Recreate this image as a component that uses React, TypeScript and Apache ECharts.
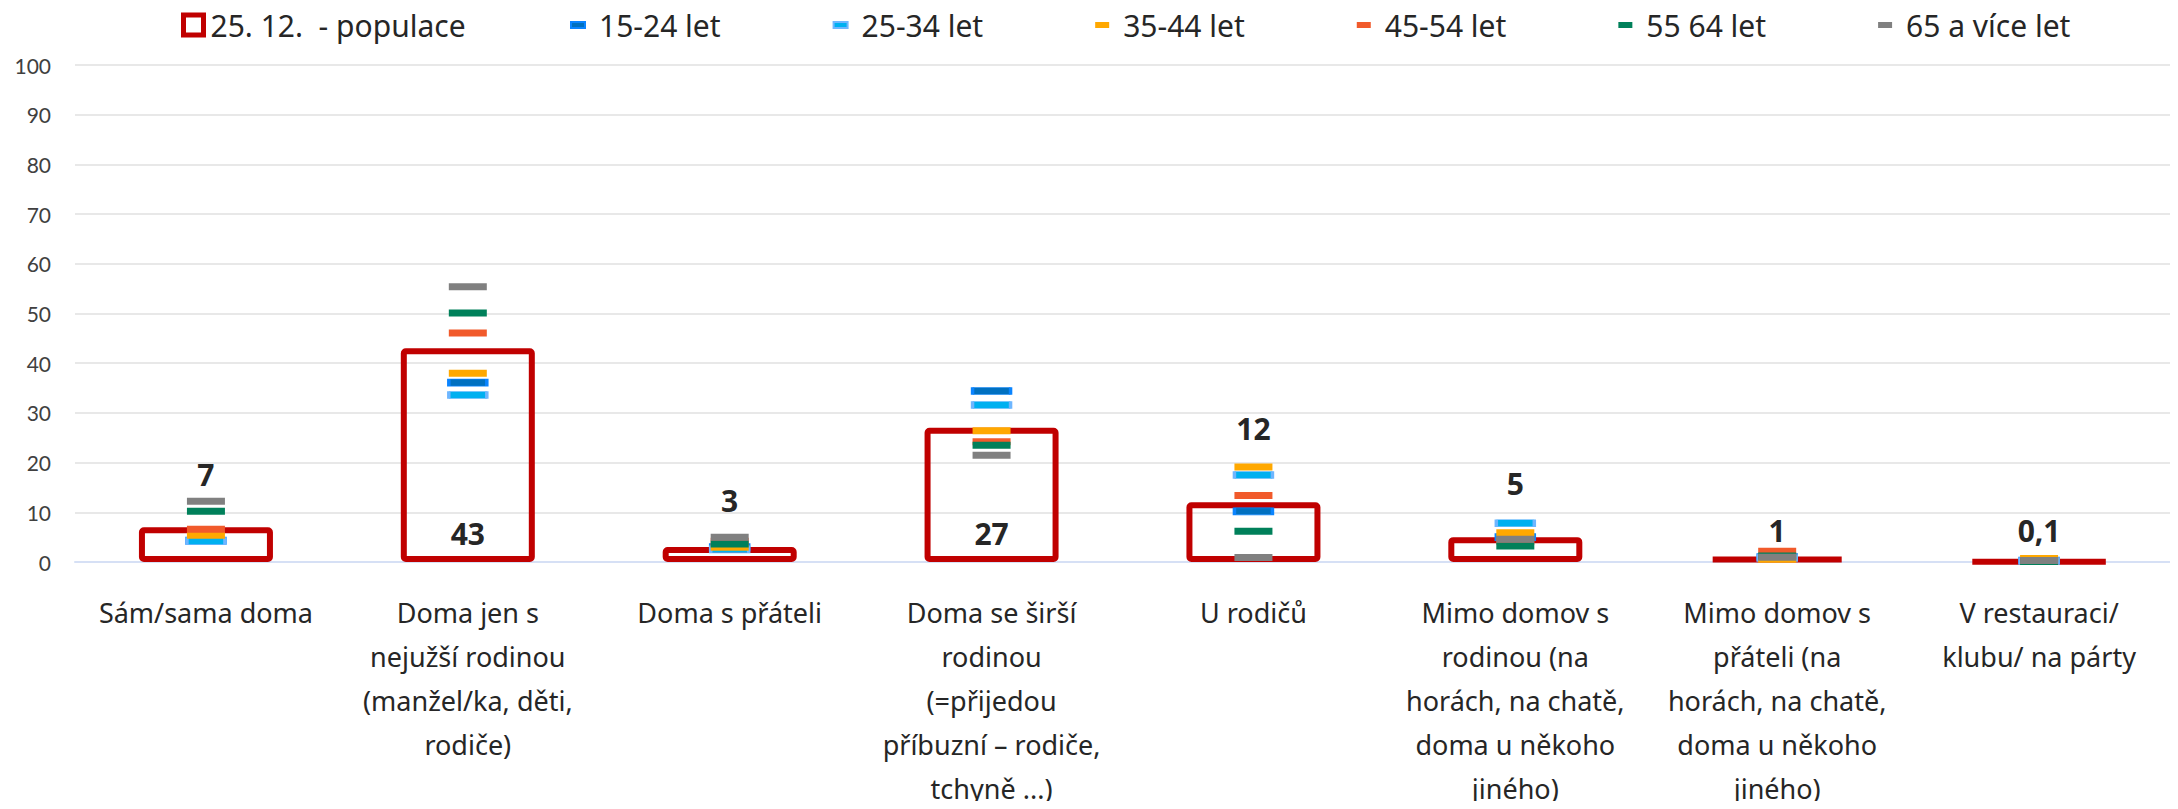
import React, { useEffect, useRef } from "react";
import * as echarts from "echarts";

const categories = [
  "Sám/sama doma",
  "Doma jen s\nnejužší rodinou\n(manžel/ka, děti,\nrodiče)",
  "Doma s přáteli",
  "Doma se širší\nrodinou\n(=přijedou\npříbuzní – rodiče,\ntchyně ...)",
  "U rodičů",
  "Mimo domov s\nrodinou (na\nhorách, na chatě,\ndoma u někoho\njiného)",
  "Mimo domov s\npřáteli (na\nhorách, na chatě,\ndoma u někoho\njiného)",
  "V restauraci/\nklubu/ na párty",
];

const populationName = "25. 12.  - populace";
const populationValues = [7, 43, 3, 27, 12, 5, 1, 0.1];

const ageGroups = ["15-24 let", "25-34 let", "35-44 let", "45-54 let", "55 64 let", "65 a více let"];
const age15_24 = [4.3, 36.1, 3.0, 34.4, 10.2, 5.0, 1.0, 0.3];
const age25_34 = [4.2, 33.6, 2.55, 31.6, 17.5, 7.8, 0.8, 0.2];
const age35_44 = [5.4, 38.0, 2.95, 26.4, 19.1, 5.9, 0.55, 0.7];
const age45_54 = [6.6, 46.1, 4.2, 24.2, 13.4, 4.2, 2.15, 0.2];
const age55_64 = [10.2, 50.1, 3.6, 23.5, 6.2, 3.2, 1.2, 0.1];
const age65plus = [12.2, 55.4, 5.0, 21.5, 0.9, 4.6, 0.95, 0.3];
const ageValues = [age15_24, age25_34, age35_44, age45_54, age55_64, age65plus];

const yTicks = { min: 0, max: 100, interval: 10 };

// styling (not data)
const ageStyles = [
  { color: "#0070C0", borderColor: "#0A84FF", borderWidth: 1.5 },
  { color: "#00B0F0", borderColor: "#6EB6FF", borderWidth: 1.5 },
  { color: "#FFA800", borderColor: "#FFA800", borderWidth: 0 },
  { color: "#F15A2B", borderColor: "#F15A2B", borderWidth: 0 },
  { color: "#00805A", borderColor: "#00805A", borderWidth: 0 },
  { color: "#808080", borderColor: "#808080", borderWidth: 0 },
];
const labelStyles = [
  { position: "top", distance: 38 },
  { position: "insideBottom", distance: 14 },
  { position: "top", distance: 32 },
  { position: "insideBottom", distance: 14 },
  { position: "top", distance: 59 },
  { position: "top", distance: 39 },
  { position: "top", distance: 11 },
  { position: "top", distance: 13 },
];

const labelFont = "'Noto Sans', 'DejaVu Sans', sans-serif";

export default function App() {
  const ref = useRef<HTMLDivElement>(null);
  useEffect(() => {
    if (!ref.current) return;
    const chart = echarts.init(ref.current, undefined, { renderer: "svg" });
    const option: any = {
      animation: false,
      backgroundColor: "#ffffff",
      legend: [
        {
          left: 176,
          top: 5,
          itemWidth: 20,
          itemHeight: 20,
          textStyle: { fontFamily: labelFont, fontSize: 30, color: "#262626", padding: [0, 0, 0, 2] },
          data: [
            {
              name: populationName,
              icon: "rect",
              itemStyle: { color: "#ffffff", borderColor: "#C00000", borderWidth: 5 },
            },
          ],
        },
        {
          left: 565,
          top: 5,
          itemWidth: 14,
          itemHeight: 6,
          itemGap: 112,
          textStyle: { fontFamily: labelFont, fontSize: 30, color: "#262626", padding: [0, 0, 0, 9] },
          data: ageGroups.map((n) => ({ name: n, icon: "rect" })),
        },
      ],
      grid: { left: 75, right: 8, top: 65, bottom: 247, containLabel: false, outerBoundsMode: "none" },
      xAxis: {
        type: "category",
        data: categories,
        axisTick: { show: false },
        axisLine: { lineStyle: { color: "#D6E0F5", width: 2 } },
        axisLabel: {
          interval: 0,
          fontFamily: labelFont,
          fontSize: 27,
          lineHeight: 44,
          color: "#262626",
          margin: 28,
        },
      },
      yAxis: {
        type: "value",
        min: yTicks.min,
        max: yTicks.max,
        interval: yTicks.interval,
        axisLine: { show: false },
        axisTick: { show: false },
        axisLabel: { fontFamily: "Lato, sans-serif", fontSize: 21, color: "#404040", margin: 24 },
        splitLine: { lineStyle: { color: "#E8E8E8", width: 2 } },
      },
      series: [
        {
          name: populationName,
          type: "bar",
          barWidth: 134,
          itemStyle: { color: "rgba(0,0,0,0)", borderColor: "#C00000", borderWidth: 6, borderRadius: 2 },
          label: {
            show: true,
            fontFamily: labelFont,
            fontWeight: "bold",
            fontSize: 30,
            color: "#262626",
            formatter: (p: any) => String(p.value).replace(".", ","),
          },
          data: populationValues.map((v, i) => ({ value: v, label: labelStyles[i] })),
        },
        ...ageGroups.map((name, k) => ({
          name,
          type: "scatter",
          symbol: "rect",
          symbolSize: [38, 7],
          itemStyle: { ...ageStyles[k], opacity: 1 },
          data: ageValues[k],
        })),
      ],
    };
    chart.setOption(option);
    return () => chart.dispose();
  }, []);
  return <div ref={ref} style={{ width: 2178, height: 809, margin: -8 }} />;
}
